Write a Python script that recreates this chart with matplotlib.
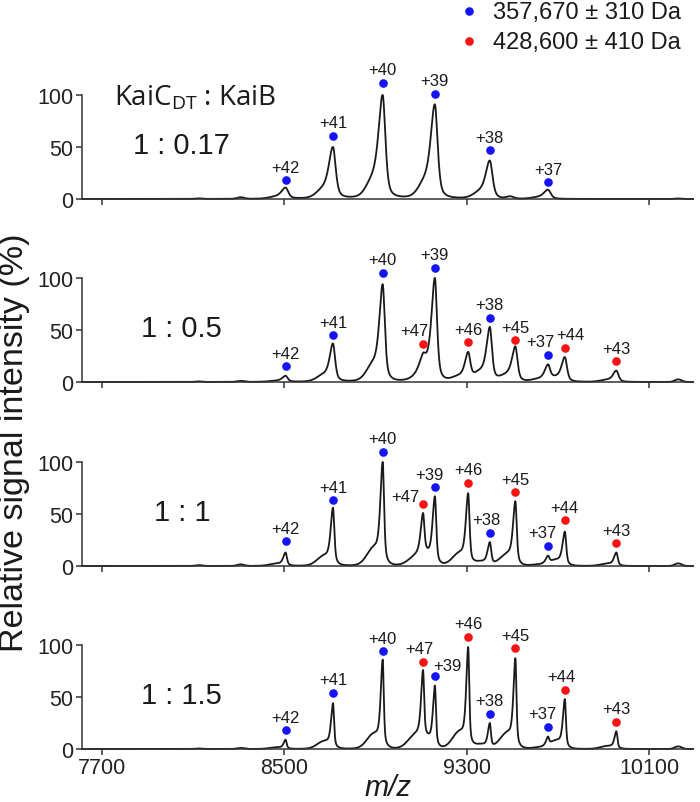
import numpy as np
import matplotlib
matplotlib.use("Agg")
import matplotlib.pyplot as plt

plt.rcParams['font.family'] = ['Liberation Sans', 'DejaVu Sans']

# ---------------- data ----------------
ratio_labels = ["1 : 0.17", "1 : 0.5", "1 : 1", "1 : 1.5"]

charges_A = [42, 41, 40, 39, 38, 37]          # 357,670 Da species (blue)
mz_A = [8505, 8713, 8931, 9160, 9401, 9656]
charges_B = [47, 46, 45, 44, 43]              # 428,600 Da species (red)
mz_B = [9108, 9306, 9513, 9730, 9956]

# peak-top intensities (%) per panel
height_A = [
    [11, 50, 100, 91, 37, 9],
    [6, 37, 94, 100, 53, 17],
    [13, 56, 100, 67, 23, 10],
    [9, 44, 86, 61, 25, 12],
]
height_B = [
    [0, 0, 0, 0, 0],
    [28, 29, 34, 24, 11],
    [51, 70, 62, 33, 13],
    [76, 98, 87, 48, 17],
]
# marker (dot) heights (%) per panel
dot_A = [
    [18, 61, 112, 101, 47, 16],
    [15, 45, 105, 110, 62, 26],
    [24, 63, 110, 76, 32, 19],
    [18, 54, 94, 70, 34, 21],
]
dot_B = [
    None,
    [37, 38, 40, 33, 20],
    [60, 80, 71, 44, 22],
    [84, 108, 97, 57, 26],
]
# minor peaks: (m/z, height) per panel
minor_mz = [8125, 8308, 9490, 10227]
minor_h = [
    [0.5, 1.5, 2.0, 0.5],
    [0.5, 1.0, 1.0, 2.5],
    [0.8, 1.5, 1.0, 2.5],
    [0.5, 1.0, 1.0, 2.5],
]
# peak half-widths (m/z) per panel: low-mass side, high-mass side
width_left = [21, 17, 12, 10]
width_right = [14, 11, 7, 5.5]

legend_labels = ["357,670 \u00b1 310 Da", "428,600 \u00b1 410 Da"]
xticks = [7700, 8500, 9300, 10100]
yticks = [0, 50, 100]

BLUE = '#1414f5'
RED = '#f51414'

# ---------------- figure ----------------
W, H = 700, 803
fig = plt.figure(figsize=(W / 100, H / 100), dpi=100)

baselines_px = [200, 383, 567, 750]
px_per_unit = 1.04
left_px, right_px = 82, 693
xlim = (7612, 10292)
x = np.linspace(xlim[0], xlim[1], 8000)


def basis(xx, c, wl, wr):
    xx = np.asarray(xx, float)
    w = np.where(xx < c, wl, wr)
    u = (xx - c) / w
    lor = 1.0 / (1.0 + u ** 2)
    gau = np.exp(-np.log(2) * u ** 2)
    core = 0.55 * lor + 0.45 * gau
    sh = 0.16 * np.exp(-0.5 * ((xx - (c - 40)) / 30.0) ** 2)
    return core + sh


label_offsets = {
    (1, 47): (-9, 13), (1, 37): (-8, 13), (1, 44): (6, 13),
    (2, 47): (-18, 7), (2, 39): (-5, 12), (2, 37): (-6, 14), (2, 38): (-3, 13),
    (3, 47): (-4, 13), (3, 39): (13, 11), (3, 37): (-6, 14), (3, 44): (-3, 13),
}

axes = []
for i in range(4):
    b = baselines_px[i]
    bottom_px = b + 1 * px_per_unit
    top_px = b - 101 * px_per_unit
    ax = fig.add_axes([left_px / W, 1 - bottom_px / H,
                       (right_px - left_px) / W, (bottom_px - top_px) / H])
    axes.append(ax)

    centers = list(mz_A)
    heights = list(height_A[i])
    if i > 0:
        centers += mz_B
        heights += height_B[i]
    centers = np.array(centers, float)
    heights = np.array(heights, float)
    wl, wr = width_left[i], width_right[i]
    M = np.array([[float(basis(ci, cj, wl, wr)) for cj in centers] for ci in centers])
    amps = np.linalg.solve(M, heights)
    y = np.zeros_like(x)
    for a, c in zip(amps, centers):
        y += a * basis(x, c, wl, wr)
    for c, h in zip(minor_mz, minor_h[i]):
        y += h * np.exp(-0.5 * ((x - c) / 15.0) ** 2)
    ax.plot(x, y, color='#1a1a1a', lw=1.3, clip_on=False, zorder=2)

    ax.plot(mz_A, dot_A[i], 'o', color=BLUE, ms=6.2, mec='none', clip_on=False, zorder=3)
    for c, d, z in zip(mz_A, dot_A[i], charges_A):
        dx, dy = label_offsets.get((i, z), (0, 13))
        ax.annotate(f"+{z}", (c, d), xytext=(dx, dy), textcoords='offset pixels',
                    ha='center', va='center', fontsize=12, color='#1a1a1a',
                    annotation_clip=False)
    if dot_B[i] is not None:
        ax.plot(mz_B, dot_B[i], 'o', color=RED, ms=6.2, mec='none', clip_on=False, zorder=3)
        for c, d, z in zip(mz_B, dot_B[i], charges_B):
            dx, dy = label_offsets.get((i, z), (0, 13))
            ax.annotate(f"+{z}", (c, d), xytext=(dx, dy), textcoords='offset pixels',
                        ha='center', va='center', fontsize=12, color='#1a1a1a',
                        annotation_clip=False)

    ax.set_xlim(*xlim)
    ax.set_ylim(-1, 101)
    ax.spines['top'].set_visible(False)
    ax.spines['right'].set_visible(False)
    ax.spines['bottom'].set_position(('data', 0))
    ax.spines['left'].set_bounds(0, 100)
    for s in ('left', 'bottom'):
        ax.spines[s].set_linewidth(1.1)
        ax.spines[s].set_color('#333333')
    ax.set_xticks(xticks)
    ax.set_yticks(yticks)
    ax.tick_params(direction='out', length=4, width=1.1, color='#333333',
                   labelsize=15.5, labelcolor='#222222', pad=2)
    if i < 3:
        ax.set_xticklabels([])
    ax.patch.set_visible(False)

    ax.text(8050, 52, ratio_labels[i], ha='center', va='center',
            fontsize=21, color='#1a1a1a')

axes[0].text(8110, 98, "KaiC$_\\mathregular{DT}$ : KaiB", ha='center', va='center',
             fontsize=20, family=['Open Sans', 'DejaVu Sans'], color='#1a1a1a')

fig.text(15 / W, 1 - 443 / H, "Relative signal intensity (%)", rotation=90,
         ha='center', va='center', fontsize=24.5, color='#1a1a1a')
fig.text(388 / W, 1 - 788 / H, "m/z", ha='center', va='center',
         fontsize=21, style='italic', color='#1a1a1a')

# legend
fig.add_artist(plt.Line2D([469 / W], [1 - 12 / H], marker='o', color=BLUE, ms=6.2,
                          mec='none', transform=fig.transFigure))
fig.add_artist(plt.Line2D([469 / W], [1 - 42 / H], marker='o', color=RED, ms=6.2,
                          mec='none', transform=fig.transFigure))
fig.text(493 / W, 1 - 13 / H, legend_labels[0], ha='left', va='center', fontsize=17,
         color='#1a1a1a')
fig.text(493 / W, 1 - 43 / H, legend_labels[1], ha='left', va='center', fontsize=17,
         color='#1a1a1a')

fig.savefig("out.png", dpi=100)
